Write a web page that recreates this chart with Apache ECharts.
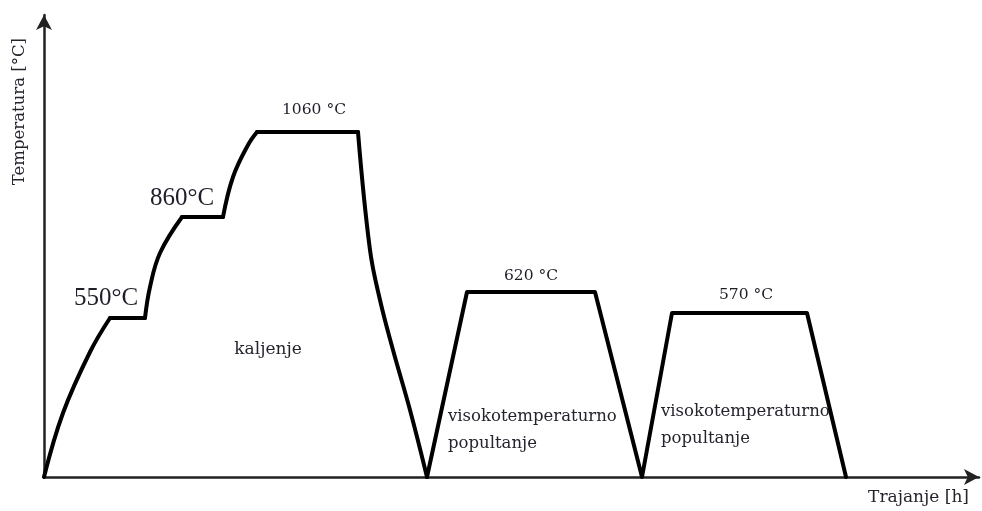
<!DOCTYPE html>
<html>
<head>
<meta charset="utf-8">
<script src="https://cdn.jsdelivr.net/npm/echarts@6/dist/echarts.min.js"></script>
<style>
  html, body { margin: 0; padding: 0; background: #fff; }
  #chart { width: 982px; height: 511px; }
</style>
</head>
<body>
<div id="chart"></div>
<script>
// Schematic heat-treatment profile (time in arbitrary units, level above the time axis)
const timeH = [0, 19, 46, 66, 101, 106, 116, 138, 179, 189, 204, 213,
               314, 326, 336, 349, 366, 383, 423, 551, 598, 628, 763, 802];
const level = [0, 64, 125, 159, 159, 190, 224, 260, 260, 300, 332, 345,
               345, 227, 177, 127, 67, 0, 185, 185, 0, 164, 164, 0];
// index ranges of the profile that are curved (heating ramps and the quench)
const curvedRanges = [[0, 3], [4, 7], [8, 11], [12, 17]];

// Plateau annotations
const plateauText = ['550°C', '860°C', '1060 °C', '620 °C', '570 °C'];
const plateauAt = [[62, 179], [138, 279], [270, 367], [487, 201], [702, 182]];
const stageText = ['kaljenje', 'visokotemperaturno\npopultanje', 'visokotemperaturno\npopultanje'];
const stageAt = [[224, 127], [404, 47], [617, 52]];

const xName = 'Trajanje [h]';
const yName = 'Temperatura [°C]';

const chart = echarts.init(document.getElementById('chart'));
const serifBig = 'Liberation Serif';
const serifSmall = 'DejaVu Serif';

const points = timeH.map((t, i) => [t, level[i]]);

const markData = [];
plateauText.forEach((txt, i) => {
  const big = i < 2;
  markData.push({
    name: txt,
    coord: plateauAt[i],
    label: {
      formatter: txt,
      fontFamily: big ? serifBig : serifSmall,
      fontSize: big ? 25 : 15.5,
      color: '#1f1f2a'
    }
  });
});
stageText.forEach((txt, i) => {
  markData.push({
    name: txt,
    coord: stageAt[i],
    label: {
      formatter: txt,
      fontFamily: serifSmall,
      fontSize: i === 0 ? 17 : 16.5,
      lineHeight: 27,
      align: i === 0 ? 'center' : 'left',
      color: '#24242e'
    }
  });
});

// split the profile into curved and straight stretches
const segments = [];
let cursor = 0;
curvedRanges.forEach(([a, b]) => {
  if (a > cursor) segments.push({ range: [cursor, a], smooth: false });
  segments.push({ range: [a, b], smooth: true });
  cursor = b;
});
if (cursor < points.length - 1) segments.push({ range: [cursor, points.length - 1], smooth: false });

const lineStyle = { color: '#000', width: 4, join: 'round', cap: 'round' };
const series = segments.map((seg, k) => {
  const s = {
    type: 'line',
    data: points.slice(seg.range[0], seg.range[1] + 1),
    showSymbol: false,
    symbol: 'none',
    smooth: seg.smooth ? 0.4 : false,
    lineStyle: lineStyle,
    z: 3,
    silent: true
  };
  if (k === 0) {
    s.markPoint = {
      symbol: 'circle', symbolSize: 0,
      label: { show: true, position: 'inside' },
      data: markData
    };
  }
  return s;
});

chart.setOption({
  animation: false,
  backgroundColor: '#ffffff',
  grid: { left: 44, right: 3, top: 15, bottom: 34, containLabel: false },
  xAxis: {
    type: 'value', min: 0, max: 935,
    axisLine: { show: true, onZero: false, symbol: ['none', 'arrow'], symbolSize: [12, 15],
                lineStyle: { color: '#222', width: 2.5 } },
    axisTick: { show: false }, axisLabel: { show: false }, splitLine: { show: false },
    name: xName, nameLocation: 'end', nameGap: -10,
    nameTextStyle: { fontFamily: serifSmall, fontSize: 17, color: '#24242e',
                     align: 'right', verticalAlign: 'top', padding: [12, 0, 0, 0] }
  },
  yAxis: {
    type: 'value', min: 0, max: 462,
    axisLine: { show: true, onZero: false, symbol: ['none', 'arrow'], symbolSize: [12, 15],
                lineStyle: { color: '#222', width: 2.5 } },
    axisTick: { show: false }, axisLabel: { show: false }, splitLine: { show: false }
  },
  graphic: [{
    type: 'text', left: 11, top: 38, rotation: Math.PI / 2,
    style: { text: yName, font: '16.5px "DejaVu Serif"', fill: '#24242e' }
  }],
  series: series
});
</script>
</body>
</html>
